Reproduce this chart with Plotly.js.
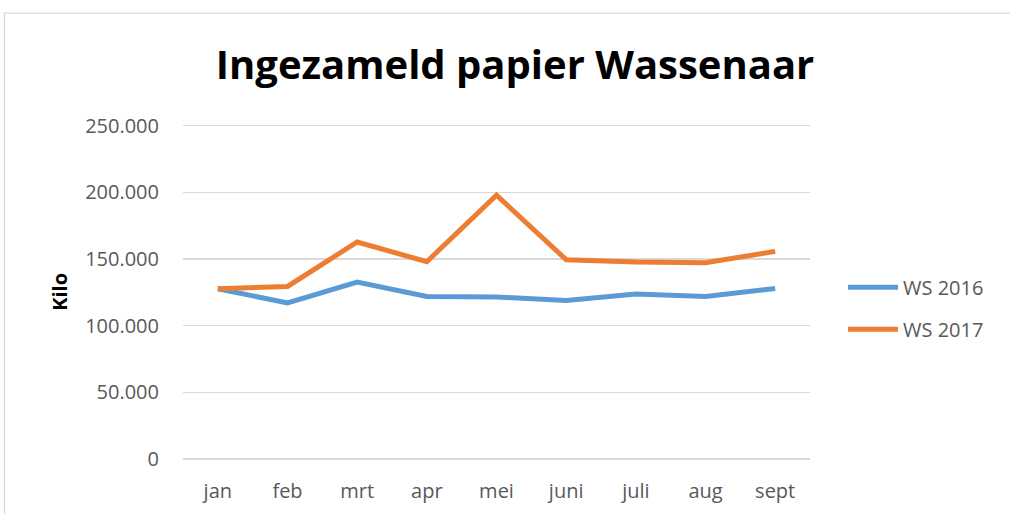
<!DOCTYPE html>
<html>
<head>
<meta charset="utf-8">
<script src="https://cdn.plot.ly/plotly-3.0.1.min.js"></script>
<style>
html,body{margin:0;padding:0;background:#fff;}
#chart{width:1010px;height:514px;}
</style>
</head>
<body>
<div id="chart"></div>
<script>
const months = ["jan","feb","mrt","apr","mei","juni","juli","aug","sept"];
const seriesNames = ["WS 2016","WS 2017"];
const ws2016 = [127700,117000,132750,121950,121500,118950,123750,121950,127950];
const ws2017 = [127700,129450,162750,147975,197850,149475,147750,147225,155700];
const yTicks = [0,50000,100000,150000,200000,250000];
const colors = ["#5B9BD5","#ED7D31"];

const traces = [ws2016, ws2017].map((vals,i)=>({
  x: months, y: vals, type:"scatter", mode:"lines",
  name: seriesNames[i], legendgroup: "g"+i,
  line:{color:colors[i], width:5, shape:"linear"},
  hoverinfo:"x+y+name"
}));

const yMax = 252000;
const L = 183, R = 810, B = 459, W = 1010, H = 514;
const T = B - yMax*333/250000;
const pw = R-L, ph = B-T;

const layout = {
  width: W, height: H,
  margin:{l:L, r:W-R, t:T, b:H-B, pad:0},
  paper_bgcolor:"#fff", plot_bgcolor:"#fff",
  separators: ",.",
  font:{family:"Open Sans, sans-serif", color:"#595959", size:20},
  title:{text:"Ingezameld papier Wassenaar", x:515/W, xanchor:"center", xref:"container",
         y:1-65/H, yanchor:"middle", yref:"container",
         font:{family:"Open Sans, sans-serif", size:40, color:"#000", weight:"bold"}},
  xaxis:{type:"category", range:[-0.5, months.length-0.5], showgrid:false, zeroline:false,
         showline:false, ticks:"", tickfont:{size:20, color:"#595959"}, ticklabelstandoff:18, fixedrange:true},
  yaxis:{range:[0,yMax], tickvals:yTicks, tickformat:",d", showgrid:true, gridcolor:"#D9D9D9", gridwidth:1.3,
         zeroline:true, zerolinecolor:"#D9D9D9", zerolinewidth:1.3, showline:false, ticks:"",
         tickfont:{size:20, color:"#595959"}, ticklabelstandoff:23, fixedrange:true},
  showlegend:true,
  legend:{x:(843-L)/pw, xanchor:"left", y:(B-268)/ph, yanchor:"top", tracegroupgap:13,
          itemwidth:50, font:{size:20, color:"#595959"}, bgcolor:"rgba(0,0,0,0)"},
  annotations:[{text:"<b>Kilo</b>", xref:"paper", yref:"paper", x:(60-L)/pw, y:(B-292)/ph,
    xanchor:"center", yanchor:"middle", textangle:-90, showarrow:false,
    font:{family:"Open Sans, sans-serif", size:20, color:"#000"}}],
  shapes:[{type:"rect", xref:"paper", yref:"paper", x0:(4.5-L)/pw, x1:(1030-L)/pw,
    y0:(B-530)/ph, y1:(B-13.5)/ph, line:{color:"#D9D9D9", width:1.3}, fillcolor:"rgba(0,0,0,0)", layer:"below"}]
};

Plotly.newPlot("chart", traces, layout, {displayModeBar:false, staticPlot:true});
</script>
</body>
</html>
